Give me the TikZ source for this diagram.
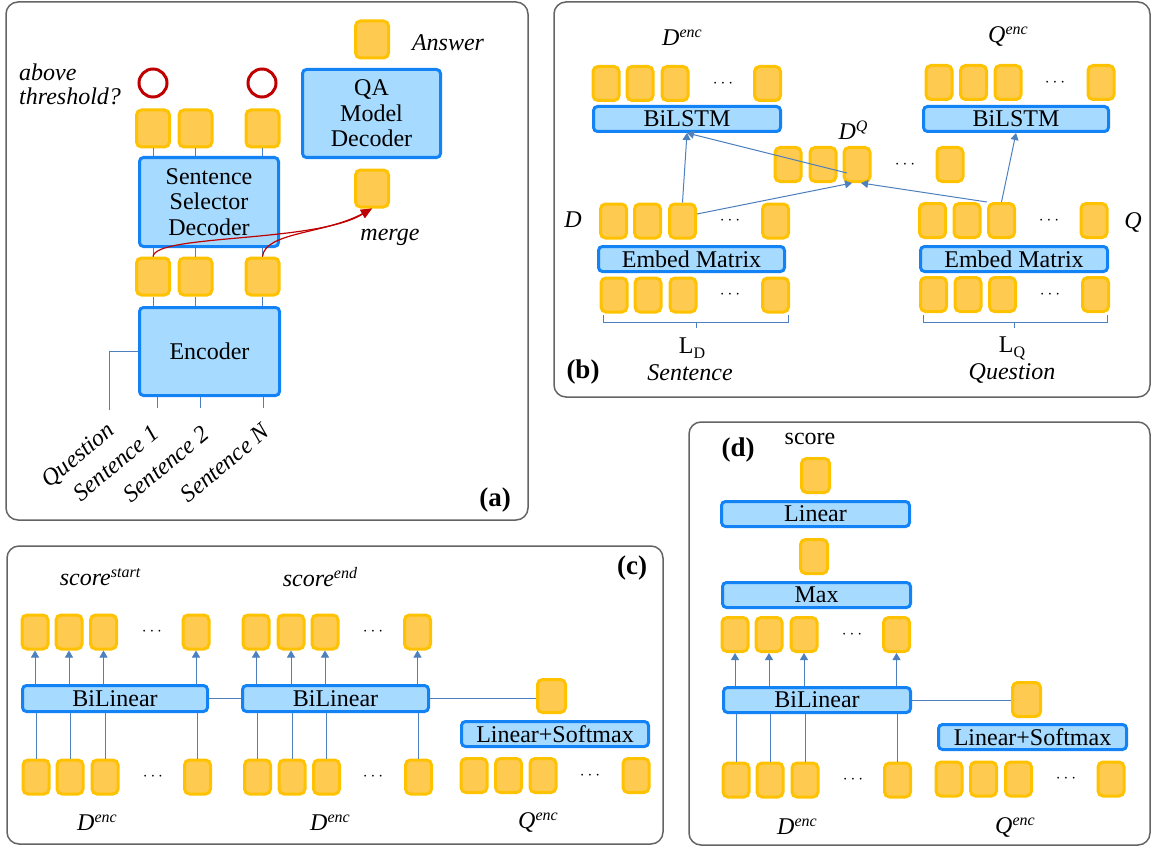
\documentclass[tikz,border=0pt]{standalone}
\usepackage{fontspec}
\setmainfont{Liberation Serif}
\usetikzlibrary{arrows.meta}
\definecolor{sqfill}{RGB}{255,202,80}
\definecolor{sqdraw}{RGB}{255,194,0}
\definecolor{bxfill}{RGB}{166,218,255}
\definecolor{bxdraw}{RGB}{18,130,245}
\definecolor{lnc}{RGB}{78,128,190}
\definecolor{pnc}{RGB}{100,100,100}
\definecolor{redc}{RGB}{192,0,0}
\newcommand\myfs{\rmfamily\fontsize{24}{25.5}\selectfont}
\newcommand\myit{\rmfamily\fontsize{24}{24}\selectfont\itshape}
\newcommand\mysup[1]{\raisebox{8pt}{\fontsize{16}{16}\selectfont #1}}
\newcommand\mysub[1]{\raisebox{-5pt}{\fontsize{16}{16}\selectfont #1}}
\begin{document}
\begin{tikzpicture}[x=1pt,y=-1pt,
 sq/.style={draw=sqdraw, fill=sqfill, line width=3pt, rounded corners=5pt, minimum width=26pt, minimum height=34pt, inner sep=0pt},
 bsq/.style={sq, minimum width=33pt, minimum height=37pt},
 bx/.style={draw=bxdraw, fill=bxfill, line width=3pt, rounded corners=4pt, inner sep=0pt, font=\myfs, align=center},
 ln/.style={draw=lnc, line width=1pt},
 arr/.style={ln, -{Triangle[width=8pt,length=7pt]}},
 redarr/.style={draw=redc, line width=1.2pt, -{Triangle[width=9pt,length=11pt]}},
 panel/.style={draw=pnc, line width=1.5pt, rounded corners=12pt},
 itl/.style={font=\myit, inner sep=0pt},
 rml/.style={font=\myfs, inner sep=0pt},
 dotn/.style={inner sep=0pt, font=\fontsize{16}{16}\selectfont},
 plab/.style={font=\rmfamily\fontsize{27}{27}\selectfont\bfseries, inner sep=0pt},
 rcirc/.style={circle, draw=redc, line width=3pt, minimum size=28pt, inner sep=0pt},
]
\useasboundingbox (0,0) rectangle (1151,848);

% ---------------- panel (a)
\draw[panel] (6,2) rectangle (528,520);
\node[bsq] (ans) at (372,39.5) {};
\node[itl] (anst) at (448,43) {Answer};
\node[bx, minimum width=138pt, minimum height=88pt] (qa) at (371.5,113.5) {QA\\Model\\Decoder};
\node[bsq] (mg) at (372,188.5) {};
\node[itl] (mgt) at (390,237) {merge};
\node[rcirc] (rc1) at (153,83) {};
\node[rcirc] (rc2) at (262,83) {};
\node[itl, align=left, anchor=west] (thr) at (19,84) {above\\threshold?};
\foreach \n/\x in {1/153,2/195.5,3/262.5}{
  \node[bsq] (t\n) at (\x,128.5) {};
  \node[bsq] (s\n) at (\x,276.5) {};
}
\node[bx, minimum width=139pt, minimum height=89pt] (sel) at (209,202) {Sentence\\Selector\\Decoder};
\node[bx, minimum width=140pt, minimum height=88pt] (enc) at (209.5,351.5) {Encoder};
\foreach \n in {1,2,3}{
  \draw[ln] (t\n.south) -- (t\n |- sel.north);
  \draw[ln] (s\n.north) -- (s\n |- sel.south);
  \draw[ln] (s\n.south) -- (s\n |- enc.north);
}
\coordinate (i1) at (157,408);
\coordinate (i2) at (200,408);
\coordinate (i3) at (263,408);
\coordinate (iq) at (109,410);
\foreach \n in {1,2,3}{ \draw[ln] (i\n |- enc.south) -- (i\n); }
\draw[ln] (enc.west) -| (iq);
\node[itl, rotate=40] (lq) at (79,456) {Question};
\node[itl, rotate=40] (l1) at (116,463) {Sentence 1};
\node[itl, rotate=40] (l2) at (166,464) {Sentence 2};
\node[itl, rotate=40] (l3) at (225,463) {Sentence N};
\node[plab] (pa) at (495,500) {(a)};
\draw[redarr] (s1.north) .. controls (156,234) and (315,243) .. (mg.south);
\draw[redarr] (s3.north) .. controls (265,232) and (325,234) .. (mg.south);

% ---------------- panel (b)
\draw[panel] (554,2) rectangle (1150,397);
\node[itl] (denc) at (682,38) {D\mysup{enc}};
\node[itl] (qenc) at (1008,37) {Q\mysup{enc}};
\foreach \n/\x in {1/606,2/640,3/675,4/767.5}{ \node[sq] (tl\n) at (\x,83.5) {}; }
\node[dotn] (dtl) at (723,83.5) {$\cdots$};
\node[bx, minimum width=187pt, minimum height=25pt] (lstmL) at (687,119) {BiLSTM};
\foreach \n/\x in {1/939,2/973.5,3/1008,4/1101}{ \node[sq] (tr\n) at (\x,82.5) {}; }
\node[dotn] (dtr) at (1055,82.5) {$\cdots$};
\node[bx, minimum width=185pt, minimum height=25pt] (lstmR) at (1016,119) {BiLSTM};
\node[itl] (dqt) at (853,130) {D\mysup{Q}};
\foreach \n/\x in {1/788,2/823,3/857,4/950}{ \node[sq] (dq\n) at (\x,164.5) {}; }
\node[dotn] (ddq) at (905,164.5) {$\cdots$};
\node[itl] (dl) at (573,220) {D};
\node[itl] (ql) at (1133,222) {Q};
\foreach \n/\x in {1/613.5,2/647.5,3/682.5,4/775.5}{ \node[sq] (ml\n) at (\x,221) {}; }
\node[dotn] (dml) at (730,221) {$\cdots$};
\node[bx, minimum width=186pt, minimum height=25pt] (embL) at (691.5,259) {Embed Matrix};
\foreach \n/\x in {1/614,2/648,3/683,4/775.5}{ \node[sq] (bl\n) at (\x,295) {}; }
\node[dotn] (dbl) at (730,295) {$\cdots$};
\draw[ln] (603,315) -- (603,322) -- (788,322) -- (788,315);
\draw[ln] (696,322) -- (696,328);
\node[rml] (ld) at (692,348) {L\mysub{D}};
\node[itl] (sent) at (690,373) {Sentence};
\node[plab] (pb) at (583,372) {(b)};
\foreach \n/\x in {1/932.5,2/967,3/1001.5,4/1094}{ \node[sq] (mr\n) at (\x,220.5) {}; }
\node[dotn] (dmr) at (1049,220.5) {$\cdots$};
\node[bx, minimum width=187pt, minimum height=25pt] (embR) at (1014,259) {Embed Matrix};
\foreach \n/\x in {1/933.5,2/968,3/1002.5,4/1095.5}{ \node[sq] (br\n) at (\x,294.5) {}; }
\node[dotn] (dbr) at (1050,294.5) {$\cdots$};
\draw[ln] (923,315) -- (923,322) -- (1107,322) -- (1107,315);
\draw[ln] (1014,322) -- (1014,328);
\node[rml] (lqq) at (1012,348) {L\mysub{Q}};
\node[itl] (quest) at (1012,373) {Question};
\coordinate (dqin) at (847,173);
\coordinate (mlout) at (697,214);
\draw[arr] (ml3.north) -- (lstmL.south);
\draw[arr] (dqin) -- (lstmL.south);
\draw[arr] (mlout) -- ([xshift=-5pt]dq3.south);
\draw[arr] (mr3.north west) -- ([xshift=4pt]dq3.south);
\draw[arr] (mr3.north) -- (lstmR.south);

% ---------------- panel (c)
\draw[panel] (7,546) rectangle (663,844);
\node[itl] (sst) at (100,577) {score\mysup{start}};
\node[itl] (sen) at (320,577) {score\mysup{end}};
\node[plab] (pc) at (632,568) {(c)};
\node[bx, minimum width=185pt, minimum height=26pt] (bil1) at (115,698.5) {BiLinear};
\node[bx, minimum width=186pt, minimum height=26pt] (bil2) at (335.5,698.5) {BiLinear};
\foreach \n/\x in {1/35,2/69,3/103.5,4/196}{
  \node[sq] (ca\n) at (\x,632) {};
  \draw[arr] (ca\n |- bil1.north) -- (ca\n.south);
}
\foreach \n/\x in {1/36,2/70,3/105,4/197.5}{
  \node[sq] (cb\n) at (\x,777) {};
  \draw[ln] (cb\n.north) -- (cb\n |- bil1.south);
}
\foreach \n/\x in {1/256,2/291,3/325,4/417.5}{
  \node[sq] (cc\n) at (\x,632) {};
  \draw[arr] (cc\n |- bil2.north) -- (cc\n.south);
}
\foreach \n/\x in {1/257.5,2/292,3/326.5,4/418.5}{
  \node[sq] (cd\n) at (\x,777) {};
  \draw[ln] (cd\n.north) -- (cd\n |- bil2.south);
}
\node[dotn] (dca) at (152,632) {$\cdots$};
\node[dotn] (dcb) at (153,777) {$\cdots$};
\node[dotn] (dcc) at (373,632) {$\cdots$};
\node[dotn] (dcd) at (373,777) {$\cdots$};
\node[sq, minimum width=28pt, minimum height=33pt] (cs) at (551.5,696) {};
\node[bx, minimum width=187pt, minimum height=25pt] (lsc) at (555,734) {Linear+Softmax};
\foreach \n/\x in {1/474,2/508.5,3/543,4/636}{ \node[sq] (cq\n) at (\x,775.5) {}; }
\node[dotn] (dcq) at (590,775.5) {$\cdots$};
\draw[ln] (bil1.east) -- (bil2.west);
\draw[ln] (bil2.east) -- (bil2.east -| cs.west);
\node[itl] (cden1) at (97,823) {D\mysup{enc}};
\node[itl] (cden2) at (330,823) {D\mysup{enc}};
\node[itl] (cqen) at (538,822) {Q\mysup{enc}};

% ---------------- panel (d)
\draw[panel] (689,422) rectangle (1150,845);
\node[plab] (pd) at (738,450) {(d)};
\node[rml] (sc) at (810,439) {score};
\node[sq, minimum width=28pt, minimum height=34pt] (d1) at (815.5,475.5) {};
\node[bx, minimum width=188pt, minimum height=25pt] (lin) at (815.5,514) {Linear};
\node[sq, minimum width=27pt, minimum height=34pt] (d2) at (814,556.5) {};
\node[bx, minimum width=188pt, minimum height=25pt] (mx) at (816.5,595) {Max};
\node[bx, minimum width=187pt, minimum height=25pt] (bil3) at (817,700) {BiLinear};
\foreach \n/\x in {1/735,2/769,3/804,4/896.5}{
  \node[sq] (da\n) at (\x,634.5) {};
  \draw[arr] (da\n |- bil3.north) -- (da\n.south);
}
\foreach \n/\x in {1/736,2/770,3/805,4/897.5}{
  \node[sq] (db\n) at (\x,780) {};
  \draw[ln] (db\n.north) -- (db\n |- bil3.south);
}
\node[dotn] (dda) at (852,634.5) {$\cdots$};
\node[dotn] (ddb) at (853,780) {$\cdots$};
\node[sq, minimum width=28pt, minimum height=34pt] (ds) at (1026.5,699.5) {};
\node[bx, minimum width=188pt, minimum height=25pt] (lsd) at (1032.5,737) {Linear+Softmax};
\foreach \n/\x in {1/949,2/983.5,3/1018.5,4/1111}{ \node[sq] (dqq\n) at (\x,779) {}; }
\node[dotn] (ddq2) at (1066,779) {$\cdots$};
\draw[ln] (bil3.east) -- (bil3.east -| ds.west);
\node[itl] (dden) at (797,827) {D\mysup{enc}};
\node[itl] (dqen) at (1015,827) {Q\mysup{enc}};
\end{tikzpicture}
\end{document}
